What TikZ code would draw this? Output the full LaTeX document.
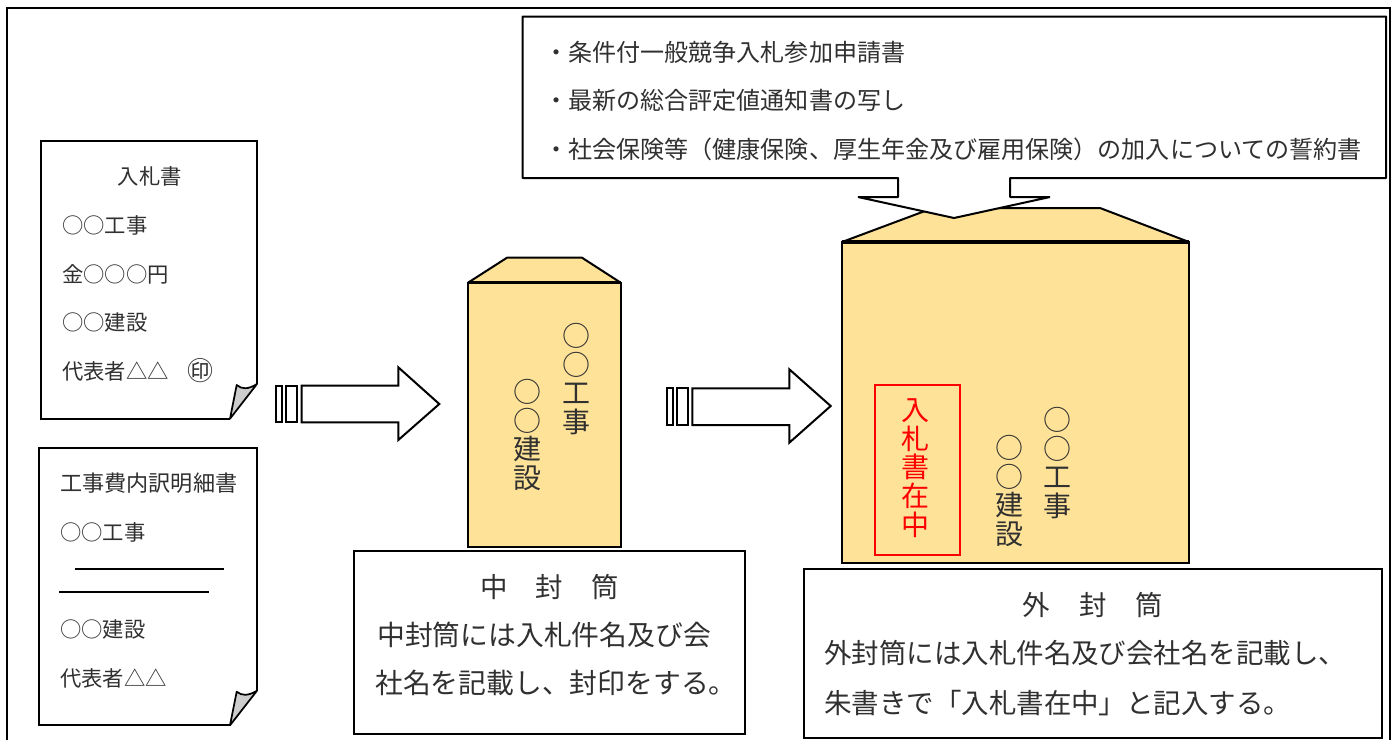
\documentclass[tikz,border=0pt]{standalone}
\usepackage{fontspec}
\newfontfamily\jp{Noto Sans CJK JP}
\newcommand{\jpstrut}{\rule[-.12em]{0pt}{1em}}
\newcommand{\szA}{\jp\fontsize{16}{16}\selectfont}
\newcommand{\szT}{\jp\fontsize{16.6}{16.6}\selectfont}
\newcommand{\szS}{\jp\fontsize{19.5}{19.5}\selectfont}
\newcommand{\szB}{\jp\fontsize{18.05}{18}\selectfont}
\newcommand{\szC}{\jp\fontsize{20.6}{20.6}\selectfont}
\newcommand{\szD}{\jp\fontsize{20.85}{20.85}\selectfont}
\newcommand{\szV}{\jp\fontsize{21}{21.4}\selectfont}
\definecolor{envfill}{HTML}{FEE298}
\definecolor{ink}{HTML}{303030}
\definecolor{fold}{HTML}{CDCDCD}
\tikzset{
  outline/.style={draw=black,line width=1.5pt,line join=miter},
  envbody/.style={outline,fill=envfill},
  envflap/.style={envbody,line join=bevel},
  envlip/.style={draw=black,line width=2.6pt},
  whitebox/.style={outline,fill=white},
  calloutbox/.style={whitebox,line join=bevel},
  foldpart/.style={draw=black,line width=1.3pt,fill=fold,line join=round},
  rulepart/.style={draw=black,line width=.9pt},
  arrowpart/.style={draw=black,line width=1.5pt,fill=white},
  lab/.style={anchor=west,inner sep=0pt,text=ink},
  ctr/.style={anchor=center,inner sep=0pt,text=ink},
  vert/.style={anchor=north,inner sep=0pt,align=center,text=ink,font=\szV},
}
\begin{document}
\begin{tikzpicture}[x=0.75pt,y=-0.75pt]
\useasboundingbox (0,0) rectangle (1392,740);
% outer frame
\draw[outline] (7,740) -- (7,8) -- (1390,8) -- (1390,740);

% papers
\draw[whitebox] (230,418.7) -- (40.7,418.7) -- (40.7,141.3) -- (257,141.3) -- (257,384);
\draw[foldpart] (257,384) .. controls (248,389.5) and (242,389.5) .. (236.7,385) -- (230,418.7) -- cycle;
\draw[whitebox] (230,725.3) -- (38.7,725.3) -- (38.7,448) -- (257,448) -- (257,690.7);
\draw[foldpart] (257,690.7) .. controls (248,696) and (242,696) .. (236.7,691.7) -- (230,725.3) -- cycle;
\draw[rulepart] (75.3,569) -- (224,569);
\draw[rulepart] (59,592) -- (209,592);

\node[ctr,font=\szA] (t1) at (149.7,176) {\jpstrut 入札書};
\node[lab,font=\szA] (t2) at (62,225) {\jpstrut ○○工事};
\node[lab,font=\szA] (t3) at (62,274) {\jpstrut 金○○○円};
\node[lab,font=\szA] (t4) at (62,322) {\jpstrut ○○建設};
\node[lab,font=\szA] (t5) at (62,371) {\jpstrut 代表者△△};
\node[ctr,font=\szS] (t6) at (200,371) {\jpstrut ㊞};

\node[lab,font=\szT] (u1) at (60,483) {\jpstrut 工事費内訳明細書};
\node[lab,font=\szA] (u2) at (60,532) {\jpstrut ○○工事};
\node[lab,font=\szA] (u3) at (60,629.5) {\jpstrut ○○建設};
\node[lab,font=\szA] (u4) at (60,678) {\jpstrut 代表者△△};

% block arrows
\draw[arrowpart] (275.7,385.7) rectangle (281.7,422.3);
\draw[arrowpart] (286,385.7) rectangle (296.7,422.3);
\draw[arrowpart] (301.7,385.7) -- (398.3,385.7) -- (398.3,367.3) -- (439.3,404) -- (398.3,440) -- (398.3,422.3) -- (301.7,422.3) -- cycle;
\draw[arrowpart] (666.7,388.3) rectangle (672.7,425);
\draw[arrowpart] (677,388.3) rectangle (688.3,425);
\draw[arrowpart] (692.3,388.3) -- (789.3,388.3) -- (789.3,369.3) -- (830.7,406) -- (789.3,442.7) -- (789.3,425) -- (692.3,425) -- cycle;

% inner envelope
\draw[envflap] (468,282.7) -- (507,257.7) -- (582,257.7) -- (620.7,282.7) -- cycle;
\draw[envbody] (468,282.7) rectangle (620.7,546.7);
\draw[envlip] (468,282.7) -- (620.7,282.7);
\node[vert] (m1) at (576,322) {\jpstrut ○\\\jpstrut ○\\\jpstrut 工\\\jpstrut 事};
\node[vert] (m2) at (527,378) {\jpstrut ○\\\jpstrut ○\\\jpstrut 建\\\jpstrut 設};

% outer envelope
\draw[envflap] (842,242) -- (933,208) -- (1100,208) -- (1189,242) -- cycle;
\draw[envbody] (842,242) rectangle (1189,562.7);
\draw[envlip] (842,242) -- (1189,242);
\draw[draw=red,line width=1.5pt] (875,385) rectangle (960,555);
\node[vert,text=red] (o0) at (915.5,396) {\jpstrut 入\\\jpstrut 札\\\jpstrut 書\\\jpstrut 在\\\jpstrut 中};
\node[vert] (o1) at (1057.5,406) {\jpstrut ○\\\jpstrut ○\\\jpstrut 工\\\jpstrut 事};
\node[vert] (o2) at (1009,434) {\jpstrut ○\\\jpstrut ○\\\jpstrut 建\\\jpstrut 設};

% callout
\draw[calloutbox] (522.5,16.5) -- (1386,16.5) -- (1386,178) -- (1010,178) -- (1010,197) -- (1050,197) -- (954,218) -- (858,197) -- (898,197) -- (898,178) -- (522.5,178) -- cycle;
\node[lab,font=\szB] (c1) at (544,52) {\jpstrut ・条件付一般競争入札参加申請書};
\node[lab,font=\szB] (c2) at (544,100) {\jpstrut ・最新の総合評定値通知書の写し};
\node[lab,font=\szB] (c3) at (544,149) {\jpstrut ・社会保険等（健康保険、厚生年金及び雇用保険）の加入についての誓約書};

% caption boxes
\draw[whitebox] (354.3,550.7) rectangle (745,734.3);
\node[ctr,font=\szC] (a1) at (494,586.7) {\jpstrut 中};
\node[ctr,font=\szC] (a2) at (549,586.7) {\jpstrut 封};
\node[ctr,font=\szC] (a3) at (605.7,586.7) {\jpstrut 筒};
\node[lab,font=\szD] (a4) at (377,635) {\jpstrut 中封筒には入札件名及び会};
\node[lab,font=\szD] (a5) at (375,683) {\jpstrut 社名を記載し、封印をする。};

\draw[whitebox] (803.5,569.3) rectangle (1382,737.7);
\node[ctr,font=\szC] (b1) at (1036,605) {\jpstrut 外};
\node[ctr,font=\szC] (b2) at (1093,605) {\jpstrut 封};
\node[ctr,font=\szC] (b3) at (1149,605) {\jpstrut 筒};
\node[lab,font=\szC] (b4) at (824,653) {\jpstrut 外封筒には入札件名及び会社名を記載し、};
\node[lab,font=\szC] (b5) at (824,703) {\jpstrut 朱書きで「入札書在中」と記入する。};
\end{tikzpicture}
\end{document}
